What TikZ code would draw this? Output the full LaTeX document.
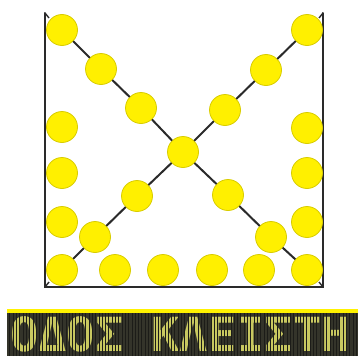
\documentclass[tikz,border=0pt]{standalone}
\usepackage{fontspec}
\newfontfamily\signfont{DejaVu Sans Mono}
\usepackage{tikz}

\definecolor{ballyellow}{HTML}{FFF000}
\definecolor{ballrim}{HTML}{D8CC00}
\definecolor{rodgray}{HTML}{2A2A2A}
\definecolor{panelbg}{HTML}{34342A}
\definecolor{ledgrid}{HTML}{1C1C18}
\definecolor{ledon}{HTML}{C8C860}

\begin{document}
\begin{tikzpicture}[
    x=1pt, y=-1pt,
    ball/.style={circle, draw=ballrim, fill=ballyellow, line width=0.8pt, minimum size=31pt, inner sep=0pt},
    rod/.style={line width=2pt, draw=rodgray},
    wall/.style={line width=2pt, draw=rodgray, line cap=round},
    tick/.style={line width=1.4pt, draw=rodgray}
]
\useasboundingbox (0,0) rectangle (358,356);

% Container
\coordinate (tl) at (45,13);
\coordinate (bl) at (45,287);
\coordinate (br) at (323,287);
\coordinate (tr) at (323,13);
\draw[wall] (tl) -- (bl) -- (br) -- (tr);
\draw[tick] (tl) -- ++(4,5);
\draw[tick] (bl) -- ++(4,-5);
\draw[tick] (tr) -- ++(-4,5);
\draw[tick] (br) -- ++(-4,-5);

% Balls
\node[ball] (c) at (183,152) {};
\foreach \n/\x/\y in {dl1/62/30, dl2/101/69, dl3/141/108,
                      dr1/228/195, dr2/271/237, dr3/307/270,
                      ur1/307/30, ur2/266/70, ur3/225/110,
                      ul1/137/196, ul2/95/237, ul3/62/270}
    \node[ball] (\n) at (\x,\y) {};
\foreach \i/\y in {1/127, 2/173, 3/222}
    \node[ball] (l\i) at (62,\y) {};
\foreach \i/\y in {1/128, 2/173, 3/222}
    \node[ball] (r\i) at (307,\y) {};
\foreach \i/\x in {1/115, 2/163, 3/212, 4/259}
    \node[ball] (b\i) at (\x,270) {};

% Rods
\draw[rod] (dl1) -- (dl2) -- (dl3) -- (c) -- (dr1) -- (dr2) -- (dr3);
\draw[rod] (ur1) -- (ur2) -- (ur3) -- (c) -- (ul1) -- (ul2) -- (ul3);

% Sign
\fill[yellow] (7,309) rectangle (358,313);
\fill[panelbg] (7,313) rectangle (358,356);
\node[anchor=base west, inner sep=0pt, text=ledon, font=\signfont\bfseries\fontsize{47}{47}\selectfont] (sign) at (10,351) {ΟΔΟΣ ΚΛΕΙΣΤΗ};
\draw[ledgrid, line width=0.9pt, step=3.3] (7,313) grid (358,356);

\end{tikzpicture}
\end{document}
